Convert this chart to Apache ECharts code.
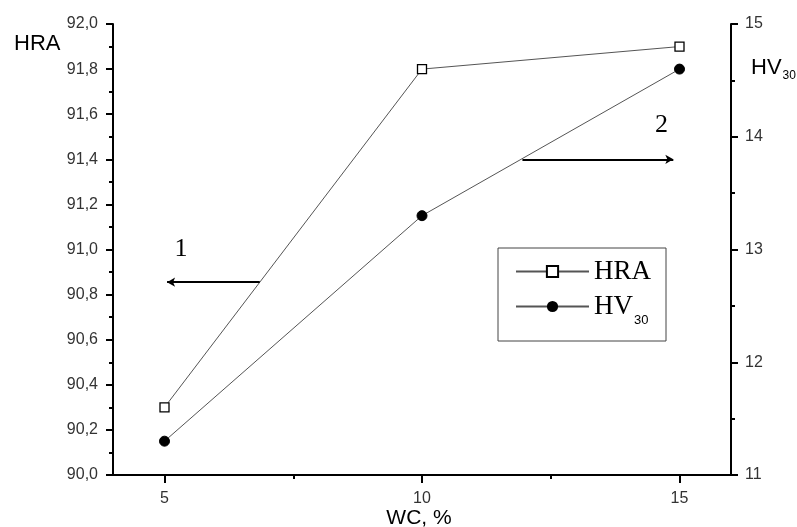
<!DOCTYPE html>
<html>
<head>
<meta charset="utf-8">
<script src="https://cdn.jsdelivr.net/npm/echarts@6/dist/echarts.min.js"></script>
<style>html,body{margin:0;padding:0;background:#fff}#c{width:797px;height:527px}</style>
</head>
<body>
<div id="c"></div>
<script>
const wc = [5, 10, 15];
const hra = [90.3, 91.8, 91.9];
const hv30 = [11.3, 13.3, 14.6];
const xTicks = [5, 10, 15];
const xMinorTicks = [7.5, 12.5];
const arrow1 = {x: [6.85, 5.05], y: 90.855};
const arrow2 = {x: [11.95, 14.88], y: 91.40};

const sans = 'Liberation Sans, Arial, sans-serif';
const serif = 'Liberation Serif, Times New Roman, serif';
const chart = echarts.init(document.getElementById('c'), null, {renderer: 'canvas'});

const axisCommon = {
  axisLine: {show: true, lineStyle: {color: '#000', width: 2}},
  axisTick: {show: true, length: 7, lineStyle: {color: '#000', width: 2}},
  minorTick: {show: true, splitNumber: 2, length: 4, lineStyle: {color: '#000', width: 2}},
  splitLine: {show: false},
  minorSplitLine: {show: false}
};

chart.setOption({
  animation: false,
  backgroundColor: '#fff',
  grid: {left: 113, right: 66, top: 24, bottom: 52, containLabel: false, outerBoundsMode: 'none'},
  xAxis: [{
    type: 'value', min: 4, max: 16,
    axisLine: {show: true, onZero: false, lineStyle: {color: '#000', width: 2}},
    axisTick: {show: true, length: 8, customValues: xTicks, lineStyle: {color: '#000', width: 2}},
    axisLabel: {customValues: xTicks, margin: 16, fontFamily: sans, fontSize: 16, color: '#333'},
    splitLine: {show: false}
  }, {
    type: 'value', min: 4, max: 16, position: 'bottom',
    axisLine: {show: false},
    axisTick: {show: true, length: 4, customValues: xMinorTicks, lineStyle: {color: '#000', width: 2}},
    axisLabel: {show: false},
    splitLine: {show: false}
  }],
  yAxis: [Object.assign({}, axisCommon, {
    type: 'value', min: 90, max: 92, interval: 0.2, position: 'left',
    axisLabel: {margin: 15, fontFamily: sans, fontSize: 16, color: '#333',
      formatter: v => v.toFixed(1).replace('.', ',')}
  }), Object.assign({}, axisCommon, {
    type: 'value', min: 11, max: 15, interval: 1, position: 'right',
    axisLabel: {margin: 14, fontFamily: sans, fontSize: 16, color: '#333'}
  })],
  legend: {
    left: 498, top: 248, orient: 'vertical',
    data: ['HRA', 'HV30'],
    itemWidth: 73, itemHeight: 14, itemGap: 8,
    borderColor: '#444', borderWidth: 1, padding: [10, 15, 14, 17],
    formatter: n => n === 'HV30' ? '{a|HV}{s|30}' : '{a|HRA}',
    textStyle: {
      rich: {
        a: {fontFamily: serif, fontSize: 27, color: '#000', lineHeight: 30},
        s: {fontFamily: sans, fontSize: 13, color: '#000', padding: [28, 0, 0, 1]}
      }
    }
  },
  series: [{
    name: 'HRA', type: 'line', xAxisIndex: 0, yAxisIndex: 0,
    data: wc.map((x, i) => [x, hra[i]]),
    symbol: 'rect', symbolSize: 9,
    lineStyle: {color: '#555', width: 1},
    itemStyle: {color: '#fff', borderColor: '#000', borderWidth: 1.3},
    emphasis: {disabled: true},
    markLine: {
      silent: true, animation: false,
      lineStyle: {color: '#000', width: 2, type: 'solid'},
      label: {show: false},
      symbolSize: [7, 8],
      data: [
        [{coord: [arrow1.x[0], arrow1.y], symbol: 'none'}, {coord: [arrow1.x[1], arrow1.y], symbol: 'arrow'}],
        [{coord: [arrow2.x[0], arrow2.y], symbol: 'none'}, {coord: [arrow2.x[1], arrow2.y], symbol: 'arrow'}]
      ]
    },
    markPoint: {
      silent: true, symbol: 'circle', symbolSize: 0,
      label: {show: true, fontFamily: serif, fontSize: 26, color: '#000', formatter: p => p.name},
      data: [{name: '1', coord: [5.32, 91.0]}, {name: '2', coord: [14.65, 91.55]}]
    }
  }, {
    name: 'HV30', type: 'line', xAxisIndex: 0, yAxisIndex: 1,
    data: wc.map((x, i) => [x, hv30[i]]),
    symbol: 'circle', symbolSize: 10,
    lineStyle: {color: '#555', width: 1},
    itemStyle: {color: '#000', borderColor: '#000'},
    emphasis: {disabled: true}
  }],
  graphic: [{
    type: 'text', left: 14, top: 33,
    style: {text: 'HRA', fontFamily: sans, fontSize: 22, fill: '#000'}
  }, {
    type: 'text', left: 751, top: 57,
    style: {text: '{a|HV}{s|30}', rich: {
      a: {fontFamily: sans, fontSize: 22, fill: '#000', lineHeight: 26},
      s: {fontFamily: sans, fontSize: 12, fill: '#000', padding: [16, 0, 0, 1]}
    }}
  }, {
    type: 'text', x: 419, y: 518,
    style: {text: 'WC, %', fontFamily: sans, fontSize: 21, fill: '#000', align: 'center', verticalAlign: 'middle'}
  }]
});
</script>
</body>
</html>
